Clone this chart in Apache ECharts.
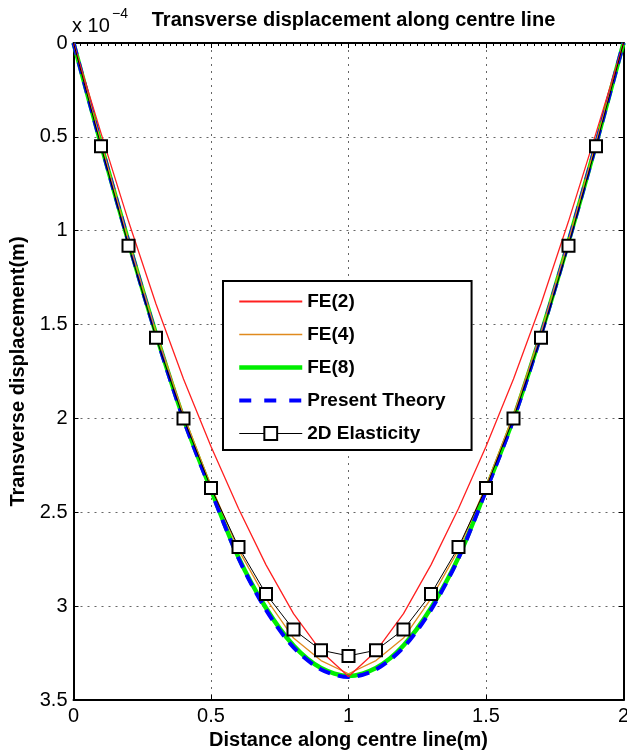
<!DOCTYPE html>
<html>
<head>
<meta charset="utf-8">
<script src="https://cdn.jsdelivr.net/npm/echarts@6/dist/echarts.min.js"></script>
<style>
  html, body { margin: 0; padding: 0; background: #fff; }
  #chart { width: 627px; height: 754px; }
</style>
</head>
<body>
<div id="chart"></div>
<script>
// Stations along the centre line (m)
const positions = [0, 0.1, 0.2, 0.3, 0.4, 0.5, 0.6, 0.7, 0.8, 0.9, 1.0,
                   1.1, 1.2, 1.3, 1.4, 1.5, 1.6, 1.7, 1.8, 1.9, 2.0];

// Transverse displacement (x 1e-4 m) for each model
const fe2 = [0, 0.48, 0.95, 1.39, 1.79, 2.15, 2.48, 2.78, 3.04, 3.24, 3.375,
             3.24, 3.04, 2.78, 2.48, 2.15, 1.79, 1.39, 0.95, 0.48, 0];
const fe4 = [0, 0.53, 1.05, 1.54, 1.98, 2.36, 2.70, 2.96, 3.17, 3.29, 3.36,
             3.29, 3.17, 2.96, 2.70, 2.36, 1.98, 1.54, 1.05, 0.53, 0];
const fe8 = [0, 0.54, 1.06, 1.55, 2.00, 2.38, 2.74, 3.01, 3.21, 3.33, 3.372,
             3.33, 3.21, 3.01, 2.74, 2.38, 2.00, 1.55, 1.06, 0.54, 0];
const presentTheory = [0, 0.54, 1.06, 1.555, 2.005, 2.385, 2.745, 3.02, 3.22, 3.337, 3.378,
                       3.337, 3.22, 3.02, 2.745, 2.385, 2.005, 1.555, 1.06, 0.54, 0];
const elasticity2D = [0, 0.55, 1.08, 1.57, 2.00, 2.37, 2.685, 2.935, 3.125, 3.235, 3.265,
                      3.235, 3.125, 2.935, 2.685, 2.37, 2.00, 1.57, 1.08, 0.55, 0];

const xTicks = { min: 0, max: 2, interval: 0.5 };
const yTicks = { min: 0, max: 3.5, interval: 0.5 };

const FONT = '"Liberation Sans", Arial, Helvetica, sans-serif';

const COLORS = { fe2: '#ff2020', fe4: '#e08a1e', fe8: '#00ee00', theory: '#0000ff', elast: '#000' };
const THEORY_DASH = [12, 8];

const pairs = arr => positions.map((x, i) => [x, arr[i]]);

// Square markers only at interior stations
const elasticityPoints = positions.map((x, i) => {
  const item = { value: [x, elasticity2D[i]] };
  if (i === 0 || i === positions.length - 1) item.symbol = 'none';
  return item;
});

// Legend entries: plain line samples (no marker) except for the elasticity curve
const hiddenMarker = { opacity: 0 };
const legendData = [
  { name: 'FE(2)', itemStyle: hiddenMarker, lineStyle: { color: COLORS.fe2, width: 2 } },
  { name: 'FE(4)', itemStyle: hiddenMarker, lineStyle: { color: COLORS.fe4, width: 1.3 } },
  { name: 'FE(8)', itemStyle: hiddenMarker, lineStyle: { color: COLORS.fe8, width: 4.5 } },
  { name: 'Present Theory', itemStyle: hiddenMarker,
    lineStyle: { color: COLORS.theory, width: 4, type: [12, 13] } },
  { name: '2D Elasticity', lineStyle: { color: COLORS.elast, width: 1 } }
];

const dotted = { show: true, lineStyle: { color: '#666', width: 1, type: [2, 5] } };
const frameLine = { show: true, onZero: false, lineStyle: { color: '#000', width: 2 } };
const inTick = { show: true, inside: true, length: 5, lineStyle: { color: '#000', width: 1 } };

const chart = echarts.init(document.getElementById('chart'), null, { renderer: 'canvas' });

chart.setOption({
  animation: false,
  backgroundColor: '#fff',
  title: {
    text: 'Transverse displacement along centre line',
    left: 348.5,
    top: 5,
    textAlign: 'center',
    textStyle: { fontFamily: FONT, fontWeight: 'bold', fontSize: 20, color: '#000' }
  },
  graphic: [
    { type: 'text', left: 72, top: 16,
      style: { text: 'x 10', fontFamily: FONT, fontSize: 20, fill: '#000' } },
    { type: 'text', left: 112, top: 7,
      style: { text: '\u22124', fontFamily: FONT, fontSize: 14, fill: '#000' } }
  ],
  grid: {
    left: 73.5, right: 3.5, top: 43, bottom: 54,
    containLabel: false, outerBoundsMode: 'none'
  },
  legend: {
    data: legendData,
    orient: 'vertical',
    left: 223,
    top: 281,
    padding: [11, 26, 7, 14],
    itemWidth: 63,
    itemHeight: 16,
    itemGap: 14,
    backgroundColor: '#fff',
    borderColor: '#000',
    borderWidth: 2,
    borderRadius: 0,
    textStyle: { fontFamily: FONT, fontWeight: 'bold', fontSize: 19, color: '#000' }
  },
  xAxis: [
    {
      type: 'value', position: 'bottom', ...xTicks,
      name: 'Distance along centre line(m)',
      nameLocation: 'middle', nameGap: 27,
      nameTextStyle: { fontFamily: FONT, fontWeight: 'bold', fontSize: 20, color: '#000' },
      axisLine: frameLine, axisTick: inTick,
      axisLabel: { color: '#000', fontFamily: FONT, fontSize: 20, margin: 6 },
      splitLine: dotted
    },
    {
      type: 'value', position: 'top', ...xTicks,
      axisLine: frameLine, axisTick: inTick,
      minorTick: { show: true, splitNumber: 20, length: 3, lineStyle: { color: '#000', width: 1 } },
      axisLabel: { show: false },
      splitLine: { show: false }
    }
  ],
  yAxis: [
    {
      type: 'value', position: 'left', inverse: true, ...yTicks,
      name: 'Transverse displacement(m)',
      nameLocation: 'middle', nameGap: 38,
      nameTextStyle: { fontFamily: FONT, fontWeight: 'bold', fontSize: 20, color: '#000' },
      axisLine: frameLine, axisTick: inTick,
      axisLabel: { color: '#000', fontFamily: FONT, fontSize: 20, margin: 6 },
      splitLine: dotted
    },
    {
      type: 'value', position: 'right', inverse: true, ...yTicks,
      axisLine: frameLine, axisTick: inTick,
      axisLabel: { show: false },
      splitLine: { show: false }
    }
  ],
  series: [
    {
      name: 'FE(8)', type: 'line', data: pairs(fe8), symbol: 'none', smooth: 0.3,
      lineStyle: { color: COLORS.fe8, width: 4.5 }, itemStyle: { color: COLORS.fe8 }, z: 2
    },
    {
      name: 'Present Theory', type: 'line', data: pairs(presentTheory), symbol: 'none', smooth: 0.3,
      lineStyle: { color: COLORS.theory, width: 4, type: THEORY_DASH },
      itemStyle: { color: COLORS.theory }, z: 3
    },
    {
      name: 'FE(4)', type: 'line', data: pairs(fe4), symbol: 'none',
      lineStyle: { color: COLORS.fe4, width: 1.3 }, itemStyle: { color: COLORS.fe4 }, z: 4
    },
    {
      name: 'FE(2)', type: 'line', data: pairs(fe2), symbol: 'none',
      lineStyle: { color: COLORS.fe2, width: 1.3 }, itemStyle: { color: COLORS.fe2 }, z: 5
    },
    {
      name: '2D Elasticity', type: 'line', data: elasticityPoints,
      symbol: 'emptyRect', symbolSize: 12,
      lineStyle: { color: COLORS.elast, width: 1 },
      itemStyle: { color: COLORS.elast, borderColor: COLORS.elast, borderWidth: 1.2 }, z: 6
    }
  ]
});
</script>
</body>
</html>
